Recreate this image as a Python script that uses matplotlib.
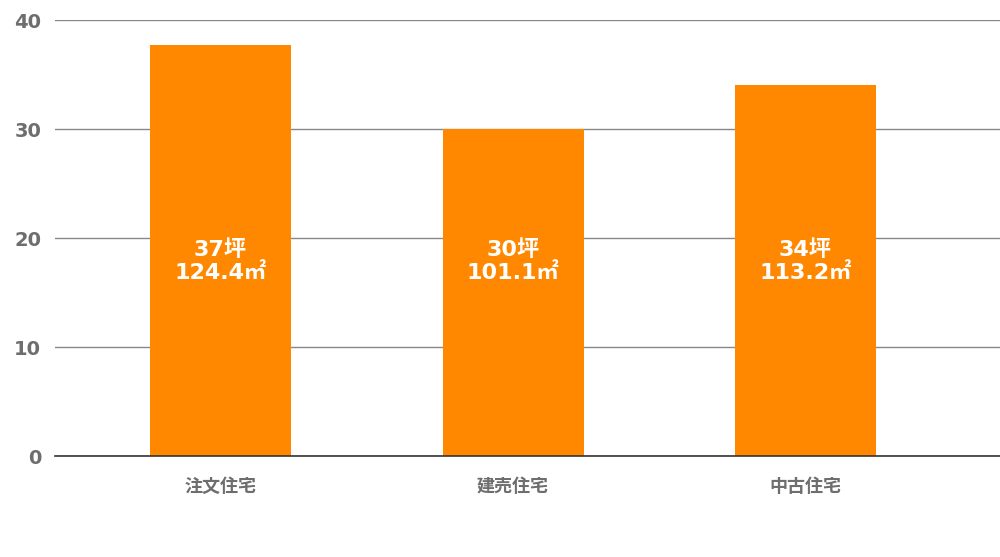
import matplotlib
import matplotlib.pyplot as plt

matplotlib.use('Agg')

plt.rcParams['font.family'] = ['DejaVu Sans', 'Noto Sans CJK JP']

# data
categories = ['注文住宅', '建売住宅', '中古住宅']
tsubo = [37.7, 30.0, 34.1]
tsubo_labels = ['37坪', '30坪', '34坪']
sqm_labels = ['124.4㎡', '101.1㎡', '113.2㎡']
yticks = [0, 10, 20, 30, 40]

bar_color = '#ff8800'
label_y = 17.9

fig = plt.figure(figsize=(10, 5.57), dpi=100)
ax = fig.add_axes([0.055, 1 - 456 / 557, 0.945, (456 - 20.3) / 557])

x = list(range(len(categories)))
ax.bar(x, tsubo, width=0.482, color=bar_color, zorder=3)

for xi, t, s in zip(x, tsubo_labels, sqm_labels):
    ax.text(xi, label_y, t + '\n' + s, ha='center', va='center',
            color='white', fontsize=16, fontweight='bold',
            linespacing=1.2, zorder=4)

ax.set_xlim(-0.566, 2.665)
ax.set_ylim(0, 40)
ax.set_yticks(yticks)
ax.set_yticklabels([str(v) for v in yticks], fontsize=14,
                   fontweight='bold', color='#6e6e6e')
ax.set_xticks(x)
ax.set_xticklabels(categories, fontsize=13, fontweight='bold',
                   color='#6e6e6e', family=['Noto Sans CJK JP'])
ax.tick_params(axis='both', length=0)
ax.tick_params(axis='y', pad=10)
ax.tick_params(axis='x', pad=15)

ax.grid(axis='y', color='#888888', linewidth=1, zorder=0)
for side in ['top', 'right', 'left']:
    ax.spines[side].set_visible(False)
ax.spines['bottom'].set_color('#333333')
ax.spines['bottom'].set_linewidth(1.2)
ax.spines['bottom'].set_zorder(5)

plt.savefig('out.png', dpi=100)
